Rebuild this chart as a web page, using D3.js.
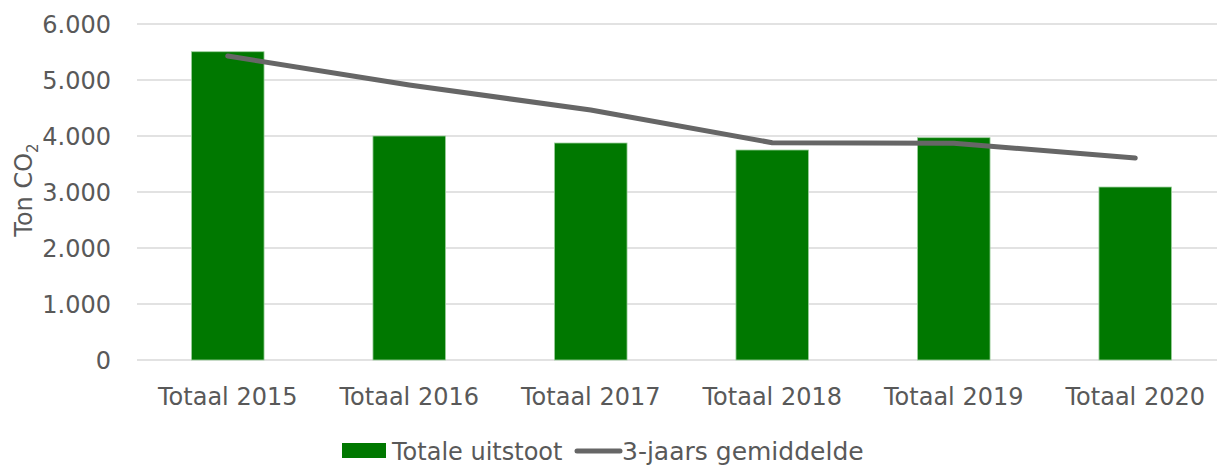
<!DOCTYPE html>
<html>
<head>
<meta charset="utf-8">
<script src="https://cdn.jsdelivr.net/npm/d3@7"></script>
<style>
  body { margin: 0; background: #fff; }
  text { font-family: "DejaVu Sans", sans-serif; fill: #595959; }
</style>
</head>
<body>
<div id="chart"></div>
<script>
const categories = ["Totaal 2015", "Totaal 2016", "Totaal 2017", "Totaal 2018", "Totaal 2019", "Totaal 2020"];
const totaleUitstoot = [5505, 4000, 3875, 3750, 3970, 3089];
const gemiddelde = [5429, 4911, 4464, 3880, 3870, 3607];
const yTicks = [0, 1000, 2000, 3000, 4000, 5000, 6000];

const width = 1217;
const height = 465;
const margin = { top: 24, right: -9, bottom: 105, left: 137 };

const svg = d3.select("#chart").append("svg").attr("width", width).attr("height", height);

const x = d3.scaleBand().domain(categories).range([margin.left, width - margin.right]).paddingInner(0.6).paddingOuter(0.3);
const y = d3.scaleLinear().domain([0, 6000]).range([height - margin.bottom, margin.top]);

const fmt = (d) => d3.format(",")(d).replace(/,/g, ".");

// gridlines
svg
  .append("g")
  .selectAll("line")
  .data(yTicks)
  .join("line")
  .attr("x1", margin.left)
  .attr("x2", width)
  .attr("y1", (d) => y(d))
  .attr("y2", (d) => y(d))
  .attr("stroke", "#d9d9d9")
  .attr("stroke-width", 1.5);

// y labels
svg
  .append("g")
  .selectAll("text")
  .data(yTicks)
  .join("text")
  .attr("x", 111)
  .attr("y", (d) => y(d))
  .attr("dy", "0.36em")
  .attr("text-anchor", "end")
  .style("font-size", "24px")
  .text(fmt);

// y title
const yTitle = svg
  .append("text")
  .attr("transform", `translate(32, ${y(3000) - 2}) rotate(-90)`)
  .attr("text-anchor", "middle")
  .style("font-size", "24px");
yTitle.append("tspan").text("Ton CO");
yTitle.append("tspan").attr("dy", 6).style("font-size", "15px").text("2");

// bars
svg
  .append("g")
  .selectAll("rect")
  .data(totaleUitstoot)
  .join("rect")
  .attr("x", (d, i) => x(categories[i]))
  .attr("y", (d) => y(d))
  .attr("width", x.bandwidth())
  .attr("height", (d) => y(0) - y(d))
  .attr("fill", "#007800")
  .attr("stroke", "#9fd09f")
  .attr("stroke-width", 0.8);

// x labels
svg
  .append("g")
  .selectAll("text")
  .data(categories)
  .join("text")
  .attr("x", (d) => x(d) + x.bandwidth() / 2)
  .attr("y", 405)
  .attr("text-anchor", "middle")
  .style("font-size", "24px")
  .text((d) => d);

// line
const line = d3
  .line()
  .x((d, i) => x(categories[i]) + x.bandwidth() / 2)
  .y((d) => y(d));

svg
  .append("path")
  .datum(gemiddelde)
  .attr("d", line)
  .attr("fill", "none")
  .attr("stroke", "#666666")
  .attr("stroke-width", 5)
  .attr("stroke-linecap", "round")
  .attr("stroke-linejoin", "round");

// legend
const legend = svg.append("g");
legend.append("rect").attr("x", 342).attr("y", 443).attr("width", 44).attr("height", 15).attr("fill", "#007800");
legend.append("text").attr("x", 392).attr("y", 451).attr("dy", "0.36em").style("font-size", "24px").text("Totale uitstoot");
legend
  .append("line")
  .attr("x1", 577)
  .attr("x2", 620)
  .attr("y1", 451)
  .attr("y2", 451)
  .attr("stroke", "#666666")
  .attr("stroke-width", 5)
  .attr("stroke-linecap", "round");
legend.append("text").attr("x", 622).attr("y", 451).attr("dy", "0.36em").style("font-size", "25px").text("3-jaars gemiddelde");
</script>
</body>
</html>
